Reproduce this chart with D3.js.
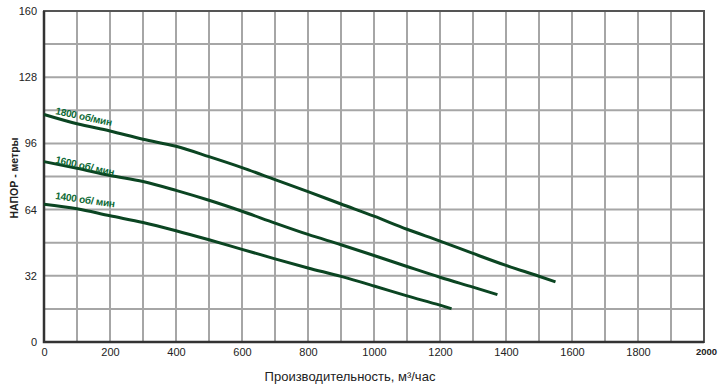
<!DOCTYPE html>
<html>
<head>
<meta charset="utf-8">
<script src="https://cdn.jsdelivr.net/npm/d3@7"></script>
<style>
  body { margin: 0; background: #fff; }
  svg text { font-family: "Liberation Sans", Arial, sans-serif; }
</style>
</head>
<body>
<div id="chart"></div>
<script>
// curves: flow (m3/h) -> head (m)
var flow1800 = [0, 100, 200, 300, 400, 500, 600, 700, 800, 900, 1000, 1100, 1200, 1300, 1400, 1500, 1550];
var head1800 = [110, 105.5, 102, 98, 94.6, 89.6, 84.3, 78.5, 72.7, 66.7, 60.8, 54.5, 48.8, 42.8, 37, 31.8, 29.1];

var flow1600 = [0, 100, 200, 300, 400, 500, 600, 700, 800, 900, 1000, 1100, 1200, 1300, 1374];
var head1600 = [87.2, 84, 80.5, 77.6, 73.3, 68.5, 63.2, 57.5, 52, 47, 41.8, 36.5, 31.3, 26.5, 22.9];

var flow1400 = [0, 100, 200, 300, 400, 500, 600, 700, 800, 900, 1000, 1100, 1200, 1235];
var head1400 = [66.6, 64.4, 61, 57.8, 53.8, 49.4, 44.8, 40.2, 35.8, 31.7, 27.1, 22.3, 17.8, 16.1];

var speedLabels = ["1800 об/мин", "1600 об/ мин", "1400 об/ мин"];
var xTicks = [0, 200, 400, 600, 800, 1000, 1200, 1400, 1600, 1800, 2000];
var yTicks = [0, 32, 64, 96, 128, 160];

var svgWidth = 720, svgHeight = 391;
var margin = {top: 11, right: 16, bottom: 49, left: 44};
var width = svgWidth - margin.left - margin.right;
var height = svgHeight - margin.top - margin.bottom;

var svg = d3.select("#chart").append("svg").attr("width", svgWidth).attr("height", svgHeight);
var chartGroup = svg.append("g").attr("transform", `translate(${margin.left},${margin.top})`);

var x = d3.scaleLinear().domain([0, 2000]).range([0, width]);
var y = d3.scaleLinear().domain([0, 160]).range([height, 0]);

// grid
chartGroup.append("g").selectAll("line").data(d3.range(100, 2000, 100)).enter().append("line")
  .attr("x1", d => x(d)).attr("x2", d => x(d)).attr("y1", 0).attr("y2", height)
  .attr("stroke", "#a6a6a6").attr("stroke-width", 2);
chartGroup.append("g").selectAll("line").data(d3.range(16, 160, 16)).enter().append("line")
  .attr("y1", d => y(d)).attr("y2", d => y(d)).attr("x1", 0).attr("x2", width)
  .attr("stroke", "#a6a6a6").attr("stroke-width", 2);

// frame
chartGroup.append("rect").attr("x", 0).attr("y", 0).attr("width", width).attr("height", height)
  .attr("fill", "none").attr("stroke", "#555").attr("stroke-width", 2);
chartGroup.append("path").attr("d", `M0,0V${height}H${width}`)
  .attr("fill", "none").attr("stroke", "#333").attr("stroke-width", 2.5);

// axes
var bottomAxis = d3.axisBottom(x).tickValues(xTicks).tickSize(0).tickPadding(6).tickFormat(d3.format("d"));
var leftAxis = d3.axisLeft(y).tickValues(yTicks).tickSize(0).tickPadding(7);
var gx = chartGroup.append("g").attr("transform", `translate(0,${height})`).call(bottomAxis);
var gy = chartGroup.append("g").call(leftAxis);
gx.select(".domain").remove();
gy.select(".domain").remove();
gx.selectAll("text").attr("font-size", 11).attr("fill", "#222");
gx.selectAll("text").filter(d => d === 2000).attr("font-weight", "bold").attr("font-size", 9.5).attr("dx", 2);
gy.selectAll("text").attr("font-size", 11).attr("fill", "#222");

// curves
var line = d3.line().x(d => x(d[0])).y(d => y(d[1])).curve(d3.curveMonotoneX);
var curves = [d3.zip(flow1800, head1800), d3.zip(flow1600, head1600), d3.zip(flow1400, head1400)];
chartGroup.selectAll(".curve").data(curves).enter().append("path")
  .attr("class", "curve")
  .attr("d", line)
  .attr("fill", "none")
  .attr("stroke", "#0b4522")
  .attr("stroke-width", 3);

// curve labels (left baseline point and tilt)
var labelPos = [[33, 110.2, 12], [33, 86.6, 12.5], [33, 69.1, 8]];
chartGroup.selectAll(".lbl").data(speedLabels).enter().append("text")
  .attr("class", "lbl")
  .attr("transform", (d, i) => `translate(${x(labelPos[i][0])},${y(labelPos[i][1])}) rotate(${labelPos[i][2]})`)
  .attr("font-size", 10)
  .attr("font-weight", "bold")
  .attr("letter-spacing", -0.2)
  .attr("fill", "#0d6a35")
  .text(d => d);

// axis titles
svg.append("text")
  .attr("transform", `translate(18,178) rotate(-90)`)
  .attr("text-anchor", "middle")
  .attr("font-size", 10.5)
  .attr("font-weight", "bold")
  .attr("fill", "#222")
  .text("НАПОР - метры");

svg.append("text")
  .attr("x", 350)
  .attr("y", 381)
  .attr("text-anchor", "middle")
  .attr("font-size", 13)
  .attr("fill", "#222")
  .text("Производительность, м³/час");
</script>
</body>
</html>
